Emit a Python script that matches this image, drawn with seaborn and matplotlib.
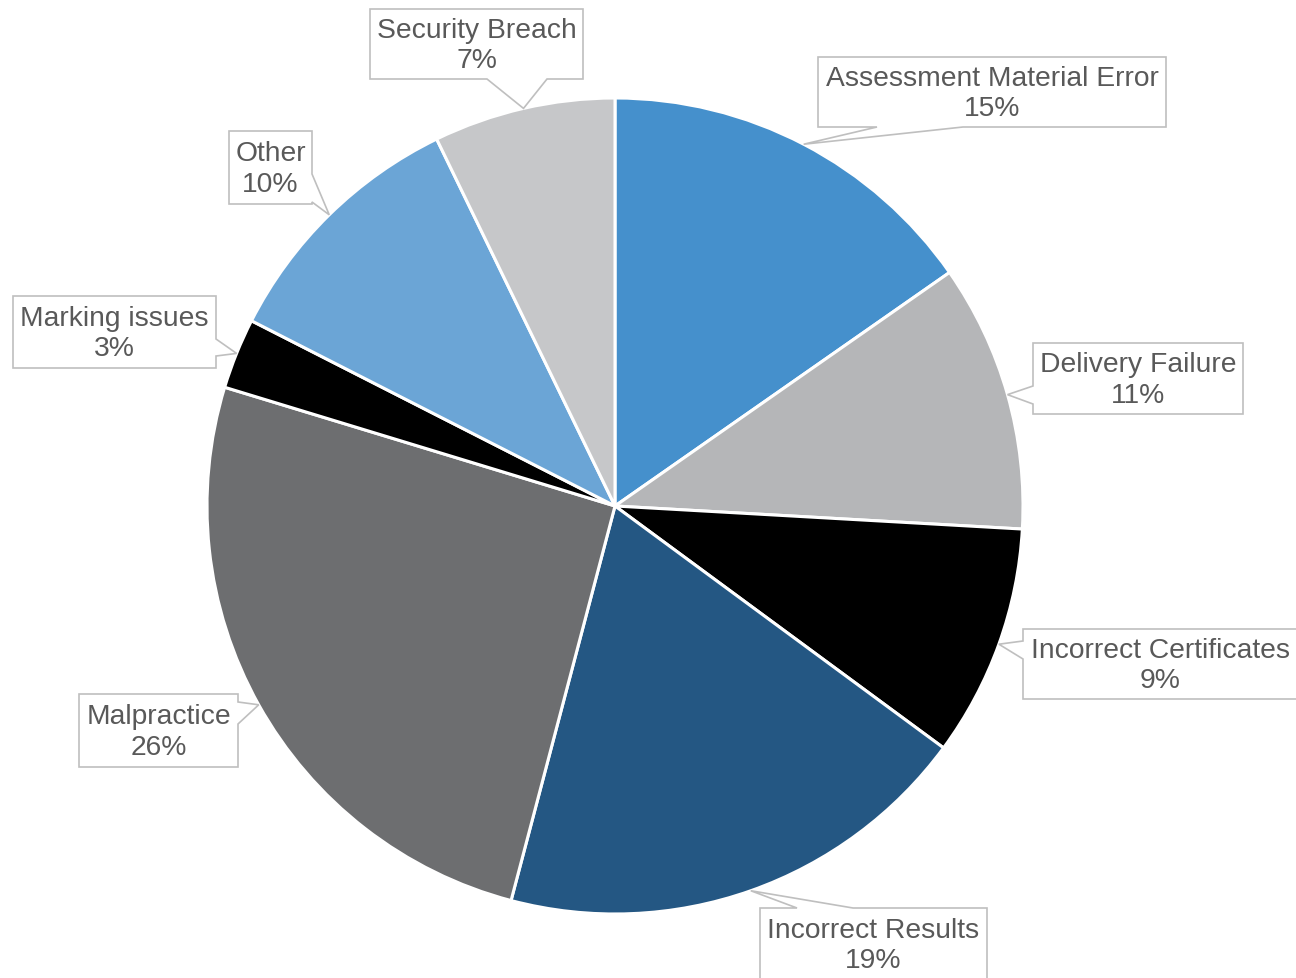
import matplotlib
matplotlib.use("Agg")
import matplotlib.pyplot as plt
from matplotlib.patches import Polygon
import numpy as np
import seaborn as sns

# ---- data ----
categories = ["Assessment Material Error", "Delivery Failure", "Incorrect Certificates",
              "Incorrect Results", "Malpractice", "Marking issues", "Other", "Security Breach"]
shares = [15.3, 10.6, 9.2, 19.0, 25.6, 2.8, 10.3, 7.2]
slice_colors = ["#4590CC", "#B5B6B8", "#000000", "#245783",
                "#6D6E70", "#000000", "#6BA5D6", "#C6C7C9"]

# ---- layout (pixel coordinates, y downwards) ----
W, H = 1296, 979
CX, CY, R = 615, 507, 408
# box: (left, top, right, bottom), tail side, tail base (two coords along that side)
callouts = {
    "Assessment Material Error": ((818, 58, 1166, 128), "bottom", (877, 963)),
    "Delivery Failure": ((1033, 344, 1243, 415), "left", (387, 405)),
    "Incorrect Certificates": ((1023, 630, 1298, 700), "left", (642, 660)),
    "Incorrect Results": ((760, 909, 987, 981), "top", (797, 853)),
    "Malpractice": ((79, 695, 238, 768), "right", (703, 725)),
    "Marking issues": ((13, 297, 216, 369), "right", (340, 357)),
    "Other": ((229, 132, 312, 205), "right", (175, 203)),
    "Security Breach": ((370, 10, 583, 80), "bottom", (487, 547)),
}

sns.set_theme(style="white")
plt.rcParams["font.family"] = ["Liberation Sans", "DejaVu Sans"]
palette = sns.color_palette(slice_colors)

fig = plt.figure(figsize=(W / 100, H / 100), dpi=100)
ax = fig.add_axes([0, 0, 1, 1])

ax.pie(shares, colors=palette, startangle=90, counterclock=False,
       center=(CX, H - CY), radius=R,
       wedgeprops=dict(edgecolor="white", linewidth=2.2))
ax.set_xlim(0, W)
ax.set_ylim(0, H)
ax.set_aspect("equal")
ax.axis("off")

total = sum(shares)
cum = 0.0
for name, v in zip(categories, shares):
    mid = cum + v / 2
    cum += v
    theta = np.deg2rad(90 - 360 * mid / total)
    tip = (CX + R * np.cos(theta), CY - R * np.sin(theta))  # pixel coords
    (l, t, r, b), side, (p1, p2) = callouts[name]
    if side == "bottom":
        pts = [(l, t), (r, t), (r, b), (p2, b), tip, (p1, b), (l, b)]
    elif side == "top":
        pts = [(l, t), (p1, t), tip, (p2, t), (r, t), (r, b), (l, b)]
    elif side == "left":
        pts = [(l, t), (r, t), (r, b), (l, b), (l, p2), tip, (l, p1)]
    else:
        pts = [(l, t), (r, t), (r, p1), tip, (r, p2), (r, b), (l, b)]
    pts = [(x, H - y) for x, y in pts]
    ax.add_patch(Polygon(pts, closed=True, facecolor="white", edgecolor="#BFBFBF",
                         linewidth=1.2, zorder=3, joinstyle="miter"))
    ty = (t + b) / 2 + 1
    ax.text((l + r) / 2, H - ty, f"{name}\n{round(v)}%",
            ha="center", va="center", fontsize=20.3, color="#595959",
            linespacing=1.22, zorder=4)

fig.savefig("out.png", dpi=100)
